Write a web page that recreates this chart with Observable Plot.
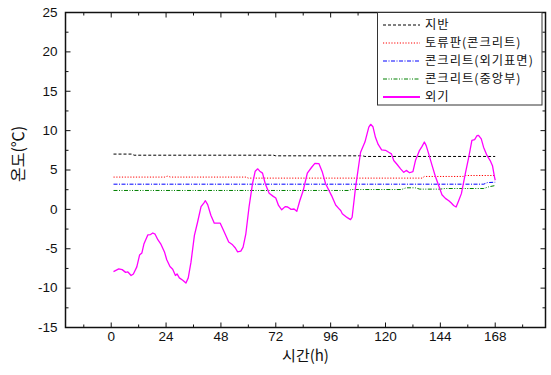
<!DOCTYPE html>
<html>
<head>
<meta charset="utf-8">
<script src="https://cdn.jsdelivr.net/npm/d3@7"></script>
<script src="https://cdn.jsdelivr.net/npm/@observablehq/plot@0.6"></script>
<style>
  html, body { margin: 0; padding: 0; background: #fff; }
  #chart { position: relative; width: 551px; height: 375px; }
</style>
</head>
<body>
<div id="chart"></div>
<script>
// ---- data ----
const seriesNames = ["지반", "토류판(콘크리트)", "콘크리트(외기표면)", "콘크리트(중앙부)", "외기"];

const groundHours = [1, 9, 10, 71, 72, 110, 111, 168];
const groundTemps = [7.02, 7.02, 6.88, 6.88, 6.8, 6.8, 6.72, 6.72];

const panelHours = [1, 23.5, 24.5, 26, 59, 60, 136, 137, 154, 155, 168];
const panelTemps = [4.1, 4.1, 4.22, 4.1, 4.1, 3.97, 3.97, 4.18, 4.18, 4.3, 4.3];

const surfHours = [1, 163, 164.5, 168];
const surfTemps = [3.2, 3.2, 3.4, 3.45];

const coreHours = [1, 104, 105, 127, 129, 133, 135, 144, 146, 163, 165, 168];
const coreTemps = [2.4, 2.4, 2.52, 2.52, 2.74, 2.74, 2.57, 2.57, 2.65, 2.65, 2.85, 3.03];

const airHours = [1, 3.3, 4.8, 6.3, 7.3, 8.7, 9.7, 11.2, 12.4, 13.4, 14.3, 16.0, 17.2, 18.2, 19.2, 20.4, 21.8, 23.3, 24.3, 25.7,
  26.9, 28.1, 28.8, 29.8, 31.3, 32.7, 33.7, 34.9, 36.4, 37.8, 39.3, 40.5, 41.2, 42.2, 43.6, 45.1, 47.7, 49.5, 51.4, 53.1,
  54.3, 55.3, 56.7, 57.7, 58.9, 60.3, 61.8, 63.0, 64.1, 65.0, 66.2, 67.4, 69.1, 70.9, 72.0, 73.2, 74.6, 76.1, 77.2, 78.7,
  80.0, 81.2, 82.5, 84.0, 85.8, 87.7, 89.1, 90.9, 92.4, 93.8, 96.4, 98.2, 99.6, 100.4, 101.1, 102.6, 103.3, 104.7, 105.4, 106.9,
  109.1, 111.0, 112.7, 113.5, 114.5, 115.6, 116.8, 118.3, 120.0, 121.4, 122.6, 123.6, 125.1, 126.6, 128.0, 129.1, 130.5, 132.0, 133.1, 134.9,
  136.0, 137.0, 137.8, 138.9, 140.4, 141.8, 143.3, 144.7, 146.2, 147.7, 148.8, 149.8, 150.9, 152.0, 153.2, 154.9, 156.4, 157.8, 159.0, 160.0,
  160.7, 161.9, 162.9, 164.4, 165.8, 166.8, 167.7, 168.0];
const airTemps = [-7.9, -7.55, -7.65, -8.0, -7.95, -8.4, -8.2, -7.3, -5.8, -5.55, -4.4, -3.25, -3.2, -3.0, -3.15, -3.85, -4.45, -5.4, -6.4, -7.25,
  -7.6, -8.4, -8.2, -8.7, -9.0, -9.35, -8.7, -6.7, -3.3, -1.6, 0.35, 0.8, 1.1, 0.6, -0.75, -1.75, -1.75, -2.9, -4.15, -4.5,
  -4.9, -5.4, -5.3, -4.8, -3.1, 0.3, 3.25, 4.85, 5.15, 4.85, 4.6, 3.25, 2.05, 1.65, 1.45, 0.5, -0.05, 0.35, 0.3, 0.0,
  0.05, -0.25, 1.1, 2.4, 4.6, 5.35, 5.85, 5.8, 4.7, 3.25, 1.75, 0.55, 0.1, -0.15, -0.55, -0.9, -1.05, -1.3, -1.0, 2.8,
  7.25, 8.55, 10.45, 10.8, 10.5, 9.15, 8.25, 7.55, 7.5, 7.25, 7.05, 6.2, 5.7, 5.15, 4.7, 4.95, 4.65, 4.8, 6.2, 7.5,
  8.0, 8.55, 8.1, 7.05, 5.55, 4.2, 3.0, 1.85, 1.4, 1.1, 0.8, 0.5, 0.3, 1.1, 2.0, 4.5, 6.6, 8.75, 8.85, 9.35,
  9.4, 8.95, 7.9, 6.85, 6.2, 5.55, 4.1, 3.7];

const xTicks = [0, 24, 48, 72, 96, 120, 144, 168];
const xMinorTicks = [-12, 12, 36, 60, 84, 108, 132, 156, 180];
const yTicks = [-15, -10, -5, 0, 5, 10, 15, 20, 25];
const yMinorTicks = [-12.5, -7.5, -2.5, 2.5, 7.5, 12.5, 17.5, 22.5];

const xLabel = "시간(h)";
const yLabel = "온도(℃)";

// ---- styling ----
const styles = [
  {stroke: "#000000", dash: "3,2", width: 1},
  {stroke: "#ff0000", dash: "1.2,1.6", width: 1},
  {stroke: "#0000ff", dash: "4,1.5,1,1.5", width: 1},
  {stroke: "#008000", dash: "4,1.5,1,1.5,1,1.5", width: 1},
  {stroke: "#ff00ff", dash: null, width: 1.3}
];

const zip = (hs, ts) => hs.map((h, i) => ({h, t: ts[i]}));
const series = [
  zip(groundHours, groundTemps),
  zip(panelHours, panelTemps),
  zip(surfHours, surfTemps),
  zip(coreHours, coreTemps),
  zip(airHours, airTemps)
];

const tickShape = {draw(ctx, l) { ctx.moveTo(0, 0); ctx.lineTo(0, -l); }};
const tickOpts = {shape: tickShape, anchor: "start", stroke: "#111", strokeWidth: 1, strokeLinecap: "butt"};

const lineMarks = series.map((d, i) => Plot.line(d, {
  x: "h", y: "t",
  stroke: styles[i].stroke,
  strokeWidth: styles[i].width,
  strokeDasharray: styles[i].dash,
  strokeLinecap: "butt"
}));

const chart = Plot.plot({
  width: 551,
  height: 375,
  marginLeft: 65,
  marginRight: 6,
  marginTop: 12,
  marginBottom: 48,
  style: {fontFamily: "'Liberation Sans', Arial, sans-serif", background: "#fff", color: "#111"},
  x: {domain: [-20, 190], axis: null},
  y: {domain: [-15, 25], axis: null},
  marks: [
    ...lineMarks,
    Plot.frame({stroke: "#111", strokeWidth: 1.5}),
    // bottom ticks
    Plot.vector(xTicks, {x: d => d, frameAnchor: "bottom", length: 5, rotate: 0, ...tickOpts}),
    Plot.vector(xMinorTicks, {x: d => d, frameAnchor: "bottom", length: 3, rotate: 0, ...tickOpts}),
    // top ticks
    Plot.vector(xTicks, {x: d => d, frameAnchor: "top", length: 5, rotate: 180, ...tickOpts}),
    Plot.vector(xMinorTicks, {x: d => d, frameAnchor: "top", length: 3, rotate: 180, ...tickOpts}),
    // left ticks
    Plot.vector(yTicks, {y: d => d, frameAnchor: "left", length: 5, rotate: 90, ...tickOpts}),
    Plot.vector(yMinorTicks, {y: d => d, frameAnchor: "left", length: 3, rotate: 90, ...tickOpts}),
    // right ticks
    Plot.vector(yTicks, {y: d => d, frameAnchor: "right", length: 5, rotate: -90, ...tickOpts}),
    Plot.vector(yMinorTicks, {y: d => d, frameAnchor: "right", length: 3, rotate: -90, ...tickOpts}),
    // tick labels
    Plot.text(xTicks, {x: d => d, frameAnchor: "bottom", dy: 13, text: d => String(d), fontSize: 13.5, fill: "#111"}),
    Plot.text(yTicks, {y: d => d, frameAnchor: "left", dx: -8, textAnchor: "end", text: d => String(d), fontSize: 13.5, fill: "#111"}),
    // axis titles
    Plot.text([xLabel], {frameAnchor: "bottom", dy: 33, text: d => d, fontSize: 15, fill: "#111", fontFamily: "'Noto Sans CJK KR', sans-serif"}),
    Plot.text([yLabel], {frameAnchor: "left", dx: -47, dy: 12, rotate: -90, text: d => d, fontSize: 16, fill: "#111", fontFamily: "'Noto Sans CJK KR', sans-serif"})
  ]
});

document.getElementById("chart").appendChild(chart);

// ---- legend (inside the plot frame, top right) ----
const svg = d3.select(chart);
const lg = svg.append("g").attr("class", "legend").attr("text-anchor", "start");
lg.append("rect")
  .attr("x", 377.5).attr("y", 12.5).attr("width", 164.5).attr("height", 92.5)
  .attr("fill", "#fff").attr("stroke", "#333").attr("stroke-width", 1);
seriesNames.forEach((name, i) => {
  const cy = 25 + i * 18;
  lg.append("line")
    .attr("x1", 383).attr("x2", 420).attr("y1", cy).attr("y2", cy)
    .attr("stroke", styles[i].stroke)
    .attr("stroke-width", i === 4 ? 2 : 1)
    .attr("stroke-dasharray", styles[i].dash);
  lg.append("text")
    .attr("x", 425).attr("y", cy).attr("dy", "0.35em")
    .attr("text-anchor", "start")
    .attr("font-family", "'Noto Sans CJK KR', sans-serif")
    .attr("font-size", 12.3)
    .attr("letter-spacing", "1px")
    .attr("fill", "#111")
    .text(name);
});
</script>
</body>
</html>
